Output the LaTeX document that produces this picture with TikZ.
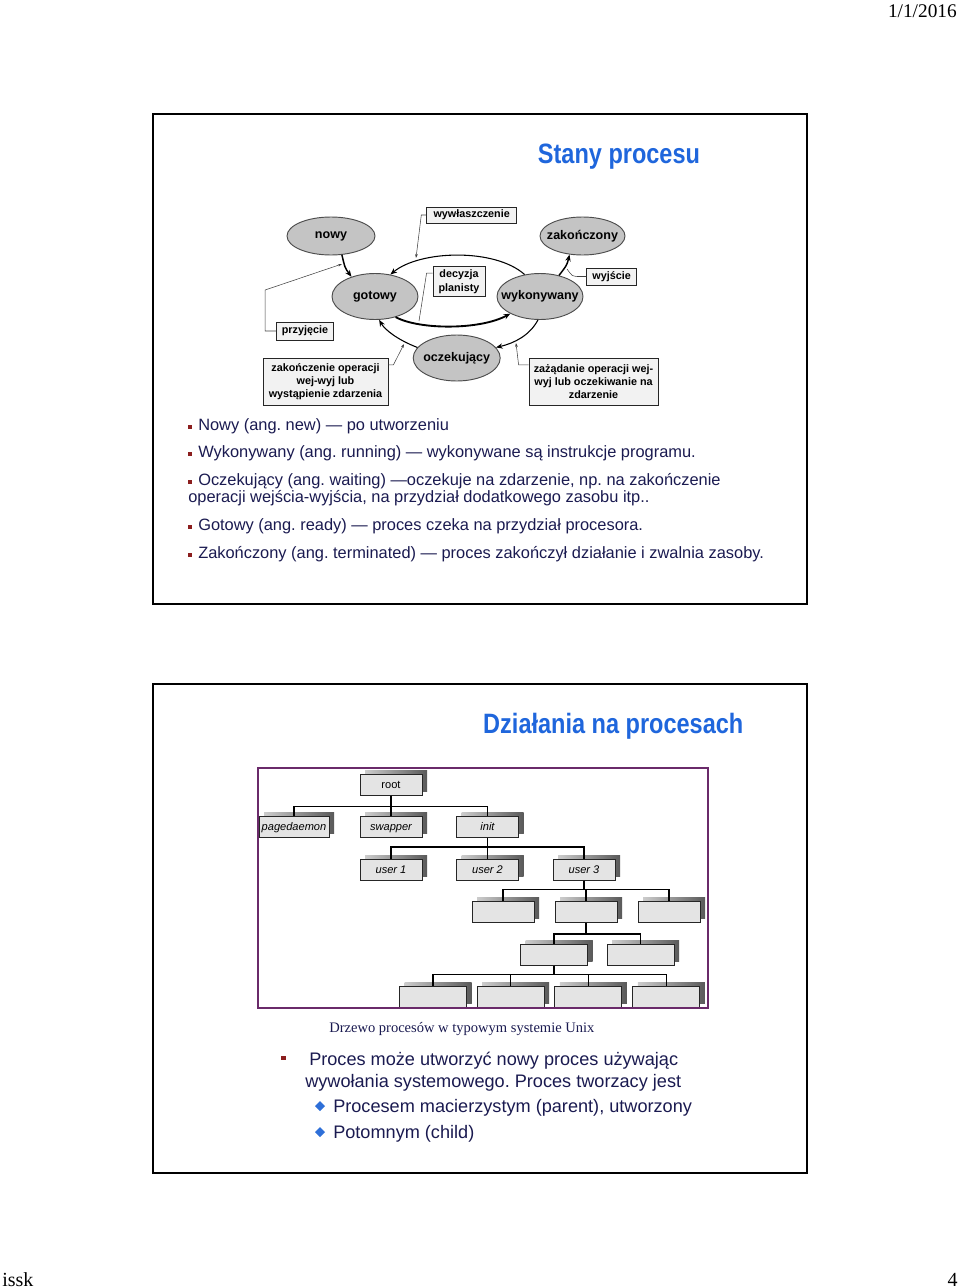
\documentclass[tikz,border=0pt]{standalone}
\usepackage{fontspec}
\setmainfont{Liberation Serif}
\setsansfont{Liberation Sans}
\newfontfamily\tytul[FakeStretch=0.84]{Liberation Sans}
\usetikzlibrary{arrows.meta,shapes.geometric,shadows}
\definecolor{tytulblue}{HTML}{1F66DC}
\definecolor{tekst}{HTML}{1A1A50}
\definecolor{punkt}{HTML}{8B1E1E}
\definecolor{romb}{HTML}{2E6FD8}
\definecolor{ramka}{HTML}{6A2A6A}
\definecolor{stanfill}{HTML}{C4C4C4}
\definecolor{etfill}{HTML}{F2F2F2}
\definecolor{procfill}{HTML}{E4E4E4}
\frenchspacing
\def\srodek#1{\makebox[0pt]{#1}}
\def\kwadrat{\textcolor{punkt}{\raisebox{1.5pt}{\rule{3pt}{3pt}}}\hspace{4.5pt}}

\tikzset{
  stan/.style={ellipse,draw=black!70,fill=stanfill,line width=0.7pt,inner sep=0pt,
    font=\sffamily\bfseries\fontsize{9.4}{11}\selectfont},
  etykieta/.style={rectangle,draw=black!85,fill=etfill,line width=0.6pt,inner sep=0pt,
    align=center,font=\sffamily\bfseries\fontsize{8.1}{10}\selectfont},
  przejscie/.style={line width=1.1pt,-{Stealth[length=5pt,width=4pt]}},
  wskaz/.style={line width=0.4pt,black!75},
  proc/.style={rectangle,draw=black!85,fill=procfill,line width=0.75pt,
    minimum width=46.5pt,minimum height=15.75pt,inner sep=0pt,text height=5.6pt,text depth=0pt,
    font=\sffamily\itshape\fontsize{8.3}{10}\selectfont,
    drop shadow={shadow xshift=3.75pt,shadow yshift=3pt,opacity=1,left color=black!20,right color=black!65}},
  galaz/.style={line width=0.9pt,black},
  linia/.style={anchor=base west,inner sep=0pt,text=tekst,font=\sffamily\fontsize{12.3}{14}\selectfont},
  linia2/.style={anchor=base west,inner sep=0pt,text=tekst,font=\sffamily\fontsize{13.6}{16}\selectfont},
  tytulstyl/.style={anchor=base,inner sep=0pt,text=tytulblue,font=\tytul\bfseries\fontsize{21}{24}\selectfont}
}

\begin{document}
\begin{tikzpicture}[x=0.75pt,y=-0.75pt]
\useasboundingbox (0,0) rectangle (960,1288);

%naglowek i stopka
\node[anchor=base east,inner sep=0pt,font=\fontsize{14.5}{16}\selectfont] (data) at (957,17.5) {1/1/2016};
\node[anchor=base west,inner sep=0pt,font=\fontsize{15}{16}\selectfont] (stopka) at (2,1286) {issk};
\node[anchor=base east,inner sep=0pt,font=\fontsize{15}{16}\selectfont] (nr) at (958,1286) {4};

%slajd 1
\draw[line width=1.5pt] (153,114) rectangle (807,604);
\node[tytulstyl] (tytul1) at (619,163.3) {Stany procesu};

%stany
\node[stan,minimum width=66pt,minimum height=28.5pt] (nowy) at (331,236) {\srodek{nowy}};
\node[stan,minimum width=63.75pt,minimum height=28.5pt] (zak) at (582.5,236) {\srodek{zakończony}};
\node[stan,minimum width=64.5pt,minimum height=34.5pt] (got) at (375,296.5) {\srodek{gotowy}};
\node[stan,minimum width=64.5pt,minimum height=34.5pt] (wyk) at (540,296.5) {\srodek{wykonywany}};
\node[stan,minimum width=65.25pt,minimum height=34.5pt] (ocz) at (456.7,358) {\srodek{oczekujący}};

%etykiety
\node[etykieta,minimum width=67.5pt,minimum height=12pt] (wywl) at (471.7,215) {wywłaszczenie};
\node[etykieta,minimum width=39pt,minimum height=22.5pt] (decyzja) at (459,281.7) {decyzja\\planisty};
\node[etykieta,minimum width=37.5pt,minimum height=12.75pt] (wyj) at (611.7,276.5) {wyjście};
\node[etykieta,minimum width=42.75pt,minimum height=13.5pt] (przyj) at (305,331) {przyjęcie};
\node[etykieta,minimum width=93.75pt,minimum height=35.25pt] (zakop) at (325.5,381.5) {zakończenie operacji\\wej-wyj lub\\wystąpienie zdarzenia};
\node[etykieta,minimum width=96.75pt,minimum height=35.25pt] (zazad) at (593.5,381.5) {zażądanie operacji wej-\\wyj lub oczekiwanie na\\zdarzenie};

%przejscia
\draw[przejscie] (nowy.-60) .. controls (345,268) .. (got.140);
\draw[przejscie,line width=0.8pt] (wyk.125) .. controls (495,248) and (420,250) .. (got.55);
\draw[przejscie,line width=1.4pt] (got.-45) .. controls (420,330) and (480,330) .. (wyk.-150);
\draw[przejscie,line width=0.8pt] (wyk.-95) .. controls (530,335) and (515,343) .. (ocz.15);
\draw[przejscie,line width=0.8pt] (ocz.165) .. controls (398,340) and (385,330) .. (got.-80);
\draw[przejscie] (wyk.48) .. controls (567,265) .. (zak.-125);

%wskazniki
\coordinate (pk1) at (416,258);
\coordinate (pk2) at (342,264);
\coordinate (pk3) at (419,321);
\coordinate (pk4) at (567,269);
\coordinate (pk5) at (404,344);
\coordinate (pk6) at (516,343);
\draw[wskaz,-{Stealth[length=3pt,width=2pt]}] (wywl.west) -- ++(-5,0) -- (pk1);
\draw[wskaz,-{Stealth[length=3pt,width=2pt]}] (przyj.west) -- ++(-11,0) -- ++(0,-41) -- (pk2);
\draw[wskaz] ([yshift=6.5pt]decyzja.west) -- ++(-6,0) -- (pk3);
\draw[wskaz] (wyj.west) -- ++(-9,0) .. controls (572,276) .. (pk4);
\draw[wskaz,-{Stealth[length=3pt,width=2pt]}] ([yshift=12.4pt]zakop.east) -- ++(5,0) -- (pk5);
\draw[wskaz,-{Stealth[length=3pt,width=2pt]}] ([yshift=12.4pt]zazad.west) -- ++(-10,0) -- (pk6);

%opisy stanow
\node[linia] (l1) at (188,430.5) {\kwadrat Nowy (ang. new) — po utworzeniu};
\node[linia] (l2) at (188,457.5) {\kwadrat Wykonywany (ang. running) — wykonywane są instrukcje programu.};
\node[linia] (l3) at (188,485.5) {\kwadrat Oczekujący (ang. waiting) —oczekuje na zdarzenie, np. na zakończenie};
\node[linia] (l4) at (188,502.5) {operacji wejścia-wyjścia, na przydział dodatkowego zasobu itp..};
\node[linia] (l5) at (188,530.5) {\kwadrat Gotowy (ang. ready) — proces czeka na przydział procesora.};
\node[linia] (l6) at (188,558.5) {\kwadrat Zakończony (ang. terminated) — proces zakończył działanie i zwalnia zasoby.};

%slajd 2
\draw[line width=1.5pt] (153,684) rectangle (807,1173);
\node[tytulstyl] (tytul2) at (613.3,733.3) {Działania na procesach};

%drzewo
\node[proc] (root) at (391,784.5) {\upshape root};
\node[proc,minimum width=52.5pt] (pd) at (294,827) {pagedaemon};
\node[proc] (swap) at (391,827) {swapper};
\node[proc] (init) at (487.5,827) {init};
\node[proc] (u1) at (391,869.5) {user 1};
\node[proc] (u2) at (487.5,869.5) {user 2};
\node[proc] (u3) at (584,869.5) {user 3};
\node[proc] (p1) at (503,912) {};
\node[proc] (p2) at (586,912) {};
\node[proc] (p3) at (669,912) {};
\node[proc,minimum width=50.25pt] (q1) at (554,954.5) {};
\node[proc,minimum width=50.25pt] (q2) at (640.7,954.5) {};
\node[proc,minimum width=50.25pt] (r1) at (433,997) {};
\node[proc,minimum width=50.25pt] (r2) at (510.7,997) {};
\node[proc,minimum width=50.25pt] (r3) at (588.3,997) {};
\node[proc,minimum width=50.25pt] (r4) at (666.4,997) {};

\foreach \d in {pd,swap,init} \draw[galaz] (root.south) -- ++(0,11) -| (\d.north);
\foreach \d in {u1,u2,u3} \draw[galaz] (init.south) -- ++(0,9) -| (\d.north);
\foreach \d in {p1,p2,p3} \draw[galaz] (u3.south) -- ++(0,9) -| (\d.north);
\foreach \d in {q1,q2} \draw[galaz] (p2.south) -- ++(0,11) -| (\d.north);
\foreach \d in {r1,r2,r3,r4} \draw[galaz] (q1.south) -- ++(0,9) -| (\d.north);

\draw[ramka,line width=2.2pt] (258,768) rectangle (708,1008);

\node[anchor=base west,inner sep=0pt,text=tekst,font=\fontsize{10.9}{12}\selectfont] (podpis) at (329,1032) {Drzewo procesów w typowym systemie Unix};

%punkty
\fill[punkt] (281,1055.5) rectangle ++(4.5,4.5);
\node[linia2] (m1) at (309,1065) {Proces może utworzyć nowy proces używając};
\node[linia2] (m2) at (305,1087) {wywołania systemowego. Proces tworzacy jest};
\fill[romb] (320,1101) -- (325,1106) -- (320,1111) -- (315,1106) -- cycle;
\node[linia2] (m3) at (333,1112) {Procesem macierzystym (parent), utworzony};
\fill[romb] (320,1127) -- (325,1132) -- (320,1137) -- (315,1132) -- cycle;
\node[linia2] (m4) at (333,1138) {Potomnym (child)};

\end{tikzpicture}
\end{document}
